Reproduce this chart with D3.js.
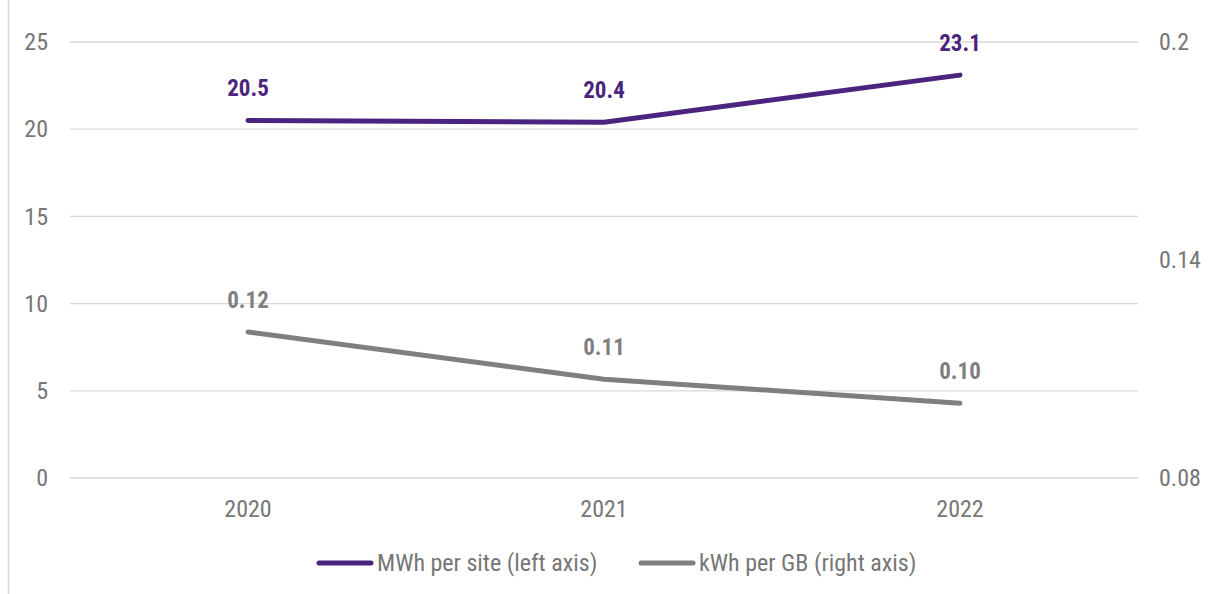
<!DOCTYPE html>
<html>
<head>
<meta charset="utf-8">
<script src="https://cdn.jsdelivr.net/npm/d3@7"></script>
<style>
  body { margin: 0; background: #fff; }
  text { font-family: "Roboto Condensed", Roboto, sans-serif; }
</style>
</head>
<body>
<div id="chart"></div>
<script>
// data
const years = ["2020", "2021", "2022"];
const mwhPerSite = [20.5, 20.4, 23.1];
const kwhPerGB = [0.1202, 0.1072, 0.1006];
const kwhLabels = ["0.12", "0.11", "0.10"];
const leftTicks = [0, 5, 10, 15, 20, 25];
const rightTicks = [0.08, 0.14, 0.2];
const seriesNames = ["MWh per site (left axis)", "kWh per GB (right axis)"];

const W = 1211, H = 594;
const purple = "#4b2480", grey = "#7f7f7f", gridCol = "#d9d9d9", txtCol = "#767676";

const svg = d3.select("#chart").append("svg")
    .attr("width", W)
    .attr("height", H);

// outer frame line on the left
svg.append("line")
  .attr("x1", 8.5).attr("x2", 8.5)
  .attr("y1", 0).attr("y2", H)
  .attr("stroke", gridCol).attr("stroke-width", 1.5);

const x = d3.scaleBand().domain(years).range([70, 1138]);
const yL = d3.scaleLinear().domain([0, 25]).range([478, 42]);
const yR = d3.scaleLinear().domain([0.08, 0.2]).range([478, 42]);

// gridlines
svg.append("g")
  .selectAll("line")
  .data(leftTicks)
  .enter().append("line")
    .attr("x1", 70).attr("x2", 1138)
    .attr("y1", d => yL(d)).attr("y2", d => yL(d))
    .attr("stroke", gridCol).attr("stroke-width", 1.3);

// left axis
const leftAxis = svg.append("g")
  .attr("transform", "translate(48,0)")
  .call(d3.axisLeft(yL).tickValues(leftTicks).tickSize(0).tickPadding(0));
leftAxis.select(".domain").remove();
leftAxis.selectAll("text")
  .attr("fill", txtCol).style("font-size", "24px");

// right axis
const rightAxis = svg.append("g")
  .attr("transform", "translate(1159,0)")
  .call(d3.axisRight(yR).tickValues(rightTicks).tickFormat(d => d3.format("")(+d.toFixed(2))).tickSize(0).tickPadding(0));
rightAxis.select(".domain").remove();
rightAxis.selectAll("text")
  .attr("fill", txtCol).style("font-size", "24px");

// x axis
const xAxis = svg.append("g")
  .attr("transform", "translate(0,478)")
  .call(d3.axisBottom(x).tickSize(0).tickPadding(22));
xAxis.select(".domain").remove();
xAxis.selectAll("text")
  .attr("fill", txtCol).style("font-size", "24px");

const cx = d => x(d) + x.bandwidth() / 2;

// lines
const lineL = d3.line().x((d, i) => cx(years[i])).y(d => yL(d));
const lineR = d3.line().x((d, i) => cx(years[i])).y(d => yR(d));

svg.append("path")
  .datum(kwhPerGB)
  .attr("d", lineR)
  .attr("fill", "none")
  .attr("stroke", grey)
  .attr("stroke-width", 5)
  .attr("stroke-linecap", "round")
  .attr("stroke-linejoin", "round");

svg.append("path")
  .datum(mwhPerSite)
  .attr("d", lineL)
  .attr("fill", "none")
  .attr("stroke", purple)
  .attr("stroke-width", 5)
  .attr("stroke-linecap", "round")
  .attr("stroke-linejoin", "round");

// data labels
svg.append("g")
  .selectAll("text")
  .data(mwhPerSite)
  .enter().append("text")
    .attr("x", (d, i) => cx(years[i]))
    .attr("y", d => yL(d) - 24)
    .attr("text-anchor", "middle")
    .attr("fill", purple)
    .style("font-size", "23px")
    .style("font-weight", "bold")
    .text(d => d.toFixed(1));

svg.append("g")
  .selectAll("text")
  .data(kwhPerGB)
  .enter().append("text")
    .attr("x", (d, i) => cx(years[i]))
    .attr("y", d => yR(d) - 24)
    .attr("text-anchor", "middle")
    .attr("fill", grey)
    .style("font-size", "23px")
    .style("font-weight", "bold")
    .text((d, i) => kwhLabels[i]);

// legend
const legend = svg.append("g");
const legendItems = [
  { name: seriesNames[0], color: purple, x: 319 },
  { name: seriesNames[1], color: grey, x: 641 }
];
legendItems.forEach(it => {
  legend.append("line")
    .attr("x1", it.x).attr("x2", it.x + 52)
    .attr("y1", 563).attr("y2", 563)
    .attr("stroke", it.color).attr("stroke-width", 5)
    .attr("stroke-linecap", "round");
  legend.append("text")
    .attr("x", it.x + 58)
    .attr("y", 571)
    .attr("fill", txtCol)
    .style("font-size", "24px")
    .text(it.name);
});
</script>
</body>
</html>
